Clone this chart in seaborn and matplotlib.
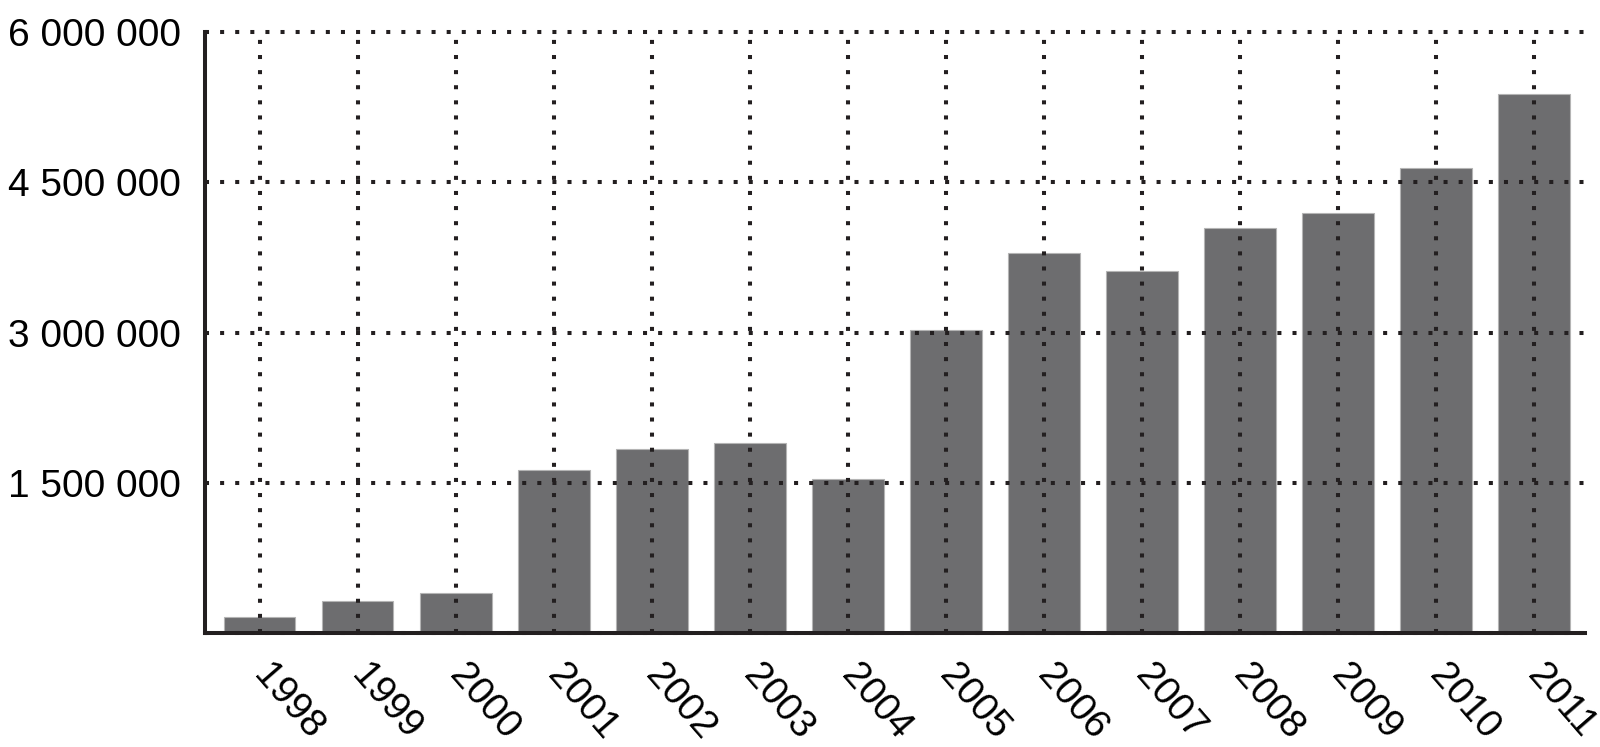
import numpy as np
import seaborn as sns
import matplotlib.pyplot as plt
from matplotlib.ticker import FuncFormatter
from matplotlib.transforms import ScaledTranslation

years = ['1998', '1999', '2000', '2001', '2002', '2003', '2004',
         '2005', '2006', '2007', '2008', '2009', '2010', '2011']
values = [157000, 317000, 404000, 1627000, 1840000, 1900000, 1537000,
          3030000, 3794000, 3610000, 4040000, 4194000, 4647000, 5384000]
y_ticks = [0, 1500000, 3000000, 4500000, 6000000]

sns.set_style('white')
plt.rcParams['font.family'] = ['Liberation Sans', 'DejaVu Sans']

ink = '#231f20'
fig = plt.figure(figsize=(16, 7.47), dpi=100)
ax = fig.add_axes([0.128, 0.1526, 0.8626, 0.8044])

sns.barplot(x=years, y=values, color='#6d6d6f', saturation=1, width=0.73,
            edgecolor='#b4b4b4', linewidth=0.8, ax=ax)

ax.set_xlim(-0.56, 13.52)
ax.set_ylim(0, 6000000)
ax.set_yticks(y_ticks)
ax.yaxis.set_major_formatter(FuncFormatter(
    lambda v, p: '' if v == 0 else f'{v:,.0f}'.replace(',', ' ')))

# dotted grid drawn over the bars
ax.set_axisbelow(False)
ax.grid(True, axis='both', color=ink, linestyle=(0, (1, 2.75)), linewidth=2.9)
for gl in ax.get_ygridlines():
    gl.set_clip_on(False)

for side in ['top', 'right']:
    ax.spines[side].set_visible(False)
for side in ['left', 'bottom']:
    ax.spines[side].set_color(ink)
    ax.spines[side].set_linewidth(2.9)

ax.tick_params(axis='both', which='major', direction='out', length=6,
               width=2.9, color=ink, labelsize=28, labelcolor='black')
ax.tick_params(axis='y', pad=11)
ax.tick_params(axis='x', pad=10)

shift = ScaledTranslation(-14 / 100, -2 / 100, fig.dpi_scale_trans)
for lab in ax.get_xticklabels():
    lab.set_rotation(-49)
    lab.set_ha('left')
    lab.set_va('top')
    lab.set_transform(lab.get_transform() + shift)

ax.set_xlabel('')
ax.set_ylabel('')

fig.savefig('out.png', dpi=100)
